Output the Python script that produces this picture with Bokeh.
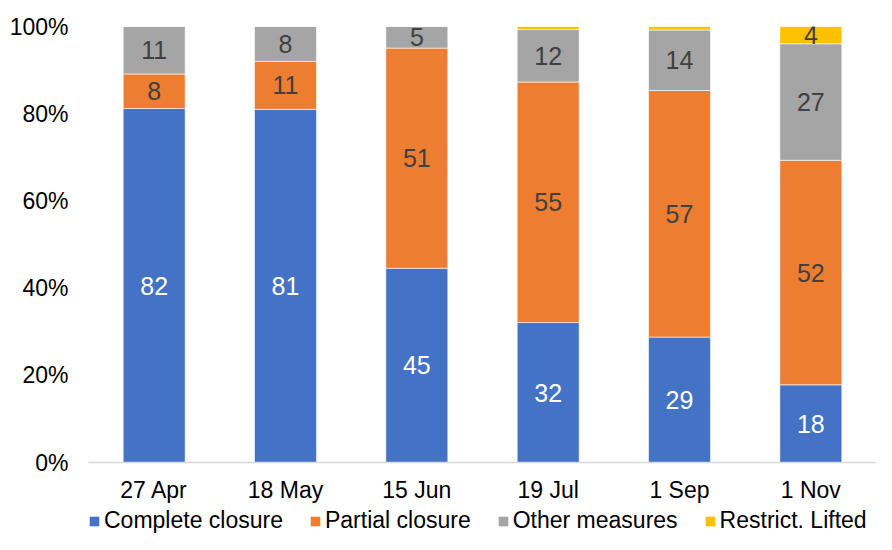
from bokeh.plotting import figure
from bokeh.layouts import column
from bokeh.models import (ColumnDataSource, FactorRange, Range1d, Legend, LegendItem,
                          PrintfTickFormatter, FixedTicker)
from bokeh.core.properties import value
from bokeh.embed import file_html
from bokeh.resources import INLINE

# ---- data ----
dates = ["27 Apr", "18 May", "15 Jun", "19 Jul", "1 Sep", "1 Nov"]
complete_closure = [82, 81, 45, 32, 29, 18]
partial_closure = [8, 11, 51, 55, 57, 52]
other_measures = [11, 8, 5, 12, 14, 27]
restrict_lifted = [0, 0, 0, 0.7, 0.8, 4]
series_names = ["Complete closure", "Partial closure", "Other measures", "Restrict. Lifted"]
y_ticks = [0, 20, 40, 60, 80, 100]

# ---- styles ----
colors = ["#4472C4", "#ED7D31", "#A5A5A5", "#FFC000"]
label_colors = ["#FFFFFF", "#404040", "#404040", "#404040"]
FONT = "Liberation Sans"

series = [complete_closure, partial_closure, other_measures, restrict_lifted]
keys = ["complete", "partial", "other", "lifted"]
totals = [sum(s[i] for s in series) for i in range(len(dates))]

data = {"date": dates}
for k, s in zip(keys, series):
    data[k] = [v / t * 100 for v, t in zip(s, totals)]
source = ColumnDataSource(data)

# label positions (segment centres, in data units)
lx, ly, lt, lc = [], [], [], []
for i, d in enumerate(dates):
    base = 0.0
    for j, k in enumerate(keys):
        h = data[k][i]
        if series[j][i] >= 2:
            lx.append(d)
            ly.append(base + h / 2)
            lt.append(str(int(series[j][i])))
            lc.append(label_colors[j])
        base += h
label_src = ColumnDataSource(dict(x=lx, y=ly, text=lt, color=lc))

p = figure(x_range=FactorRange(*dates), y_range=Range1d(0, 100),
           width=876, height=506, output_backend="svg", toolbar_location=None,
           min_border_left=88, min_border_right=0, min_border_top=26, min_border_bottom=44)

renderers = p.vbar_stack(keys, x="date", width=0.472, color=colors, source=source,
                         line_color="white", line_width=0.6)

p.text(x="x", y="y", text="text", text_color="color", source=label_src,
       text_align="center", text_baseline="middle",
       text_font=value(FONT), text_font_size="25px")

p.xgrid.grid_line_color = None
p.ygrid.grid_line_color = None
p.outline_line_color = None

p.yaxis.ticker = FixedTicker(ticks=y_ticks)
p.yaxis.formatter = PrintfTickFormatter(format="%d%%")
p.yaxis.axis_line_color = None
p.yaxis.major_tick_line_color = None
p.yaxis.minor_tick_line_color = None
p.yaxis.major_tick_out = 0
p.yaxis.major_tick_in = 0
p.yaxis.major_label_standoff = 20
p.yaxis.major_label_text_font = FONT
p.yaxis.major_label_text_font_size = "23px"
p.yaxis.major_label_text_color = "#000000"

p.xaxis.axis_line_color = "#D9D9D9"
p.xaxis.axis_line_width = 1.5
p.xaxis.major_tick_line_color = None
p.xaxis.minor_tick_line_color = None
p.xaxis.major_tick_out = 0
p.xaxis.major_tick_in = 0
p.xaxis.major_label_standoff = 14
p.xaxis.major_label_text_font = FONT
p.xaxis.major_label_text_font_size = "23px"
p.xaxis.major_label_text_color = "#000000"

# ---- legend strip (separate figure below the chart) ----
pl = figure(width=876, height=28, output_backend="svg", toolbar_location=None,
            x_range=Range1d(0, 1), y_range=Range1d(0, 1),
            x_axis_type=None, y_axis_type=None,
            min_border_left=88, min_border_right=0, min_border_top=0, min_border_bottom=0)
pl.outline_line_color = None
pl.xgrid.grid_line_color = None
pl.ygrid.grid_line_color = None
# zero-size proxy bars: they only supply the legend swatches
proxies = [pl.vbar(x=[0.5], top=[0], bottom=[0], width=0, fill_color=c, line_color=None)
           for c in colors]

legend = Legend(items=[LegendItem(label=n, renderers=[r]) for n, r in zip(series_names, proxies)],
                location=(0, 0), orientation="horizontal",
                label_text_font=FONT, label_text_font_size="23px", label_text_color="#000000",
                glyph_width=12, glyph_height=12, label_standoff=4, spacing=26,
                padding=0, margin=0, border_line_color=None, background_fill_alpha=0)
pl.add_layout(legend, "center")

layout = column(p, pl, spacing=0)
open("out.html", "w").write(file_html(layout, INLINE))
